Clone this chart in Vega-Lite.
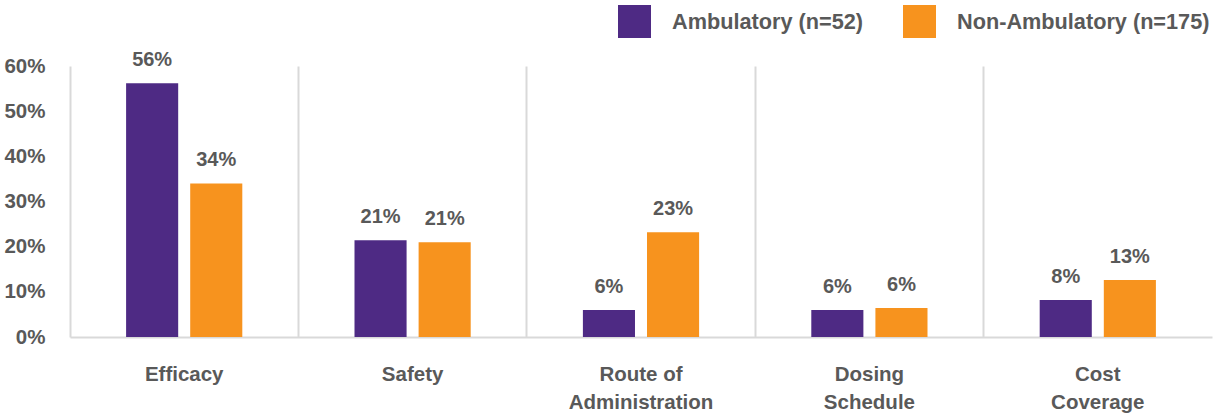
{
  "$schema": "https://vega.github.io/schema/vega-lite/v6.json",
  "width": 1142,
  "height": 271,
  "autosize": {"type": "none"},
  "padding": {"left": 70, "top": 66, "right": 1, "bottom": 80},
  "background": "white",
  "config": {
    "view": {"stroke": null},
    "font": "Liberation Sans",
    "axis": {"grid": false, "ticks": false}
  },
  "data": {
    "values": [
      {"category": "Efficacy", "group": "Ambulatory (n=52)", "value": 0.562},
      {"category": "Efficacy", "group": "Non-Ambulatory (n=175)", "value": 0.34},
      {"category": "Safety", "group": "Ambulatory (n=52)", "value": 0.214},
      {"category": "Safety", "group": "Non-Ambulatory (n=175)", "value": 0.21},
      {"category": "Route of Administration", "group": "Ambulatory (n=52)", "value": 0.06},
      {"category": "Route of Administration", "group": "Non-Ambulatory (n=175)", "value": 0.232},
      {"category": "Dosing Schedule", "group": "Ambulatory (n=52)", "value": 0.06},
      {"category": "Dosing Schedule", "group": "Non-Ambulatory (n=175)", "value": 0.064},
      {"category": "Cost Coverage", "group": "Ambulatory (n=52)", "value": 0.082},
      {"category": "Cost Coverage", "group": "Non-Ambulatory (n=175)", "value": 0.126}
    ]
  },
  "encoding": {
    "x": {
      "field": "category",
      "type": "nominal",
      "sort": null,
      "scale": {"paddingInner": 0, "paddingOuter": 0},
      "axis": {
        "title": null,
        "labelAngle": 0,
        "grid": true,
        "bandPosition": 0,
        "gridColor": "#D9D9D9",
        "gridWidth": 2,
        "domainColor": "#D9D9D9",
        "domainWidth": 2,
        "labelFontSize": 20.5,
        "labelFontWeight": "bold",
        "labelColor": "#595959",
        "labelPadding": 27,
        "labelBaseline": "top",
        "labelLineHeight": 28,
        "labelExpr": "datum.value == 'Route of Administration' ? ['Route of', 'Administration'] : datum.value == 'Dosing Schedule' ? ['Dosing', 'Schedule'] : datum.value == 'Cost Coverage' ? ['Cost', 'Coverage'] : datum.value"
      }
    },
    "xOffset": {
      "field": "group",
      "type": "nominal",
      "scale": {"paddingInner": 0.1875, "paddingOuter": 0.875}
    },
    "y": {
      "field": "value",
      "type": "quantitative",
      "scale": {"domain": [0, 0.6], "nice": false},
      "axis": {
        "title": null,
        "domain": false,
        "values": [0, 0.1, 0.2, 0.3, 0.4, 0.5, 0.6],
        "format": ".0%",
        "labelFontSize": 20.5,
        "labelFontWeight": "bold",
        "labelColor": "#595959",
        "labelPadding": 25
      }
    },
    "color": {
      "field": "group",
      "type": "nominal",
      "scale": {
        "domain": ["Ambulatory (n=52)", "Non-Ambulatory (n=175)"],
        "range": ["#4E2A84", "#F7931E"]
      },
      "legend": {
        "title": null,
        "orient": "none",
        "legendX": 548,
        "legendY": -61,
        "direction": "horizontal",
        "symbolType": "square",
        "symbolSize": 1089,
        "symbolStrokeWidth": 0,
        "symbolOpacity": 1,
        "labelFontSize": 21.7,
        "labelFontWeight": "bold",
        "labelColor": "#595959",
        "labelLimit": 0,
        "labelOffset": 21,
        "columnPadding": 39,
        "padding": 0
      }
    }
  },
  "layer": [
    {"mark": {"type": "bar"}},
    {
      "mark": {
        "type": "text",
        "baseline": "alphabetic",
        "dy": -17,
        "fontSize": 20,
        "fontWeight": "bold",
        "color": "#595959"
      },
      "encoding": {
        "text": {"field": "value", "type": "quantitative", "format": ".0%"},
        "color": {"value": "#595959"}
      }
    }
  ]
}
